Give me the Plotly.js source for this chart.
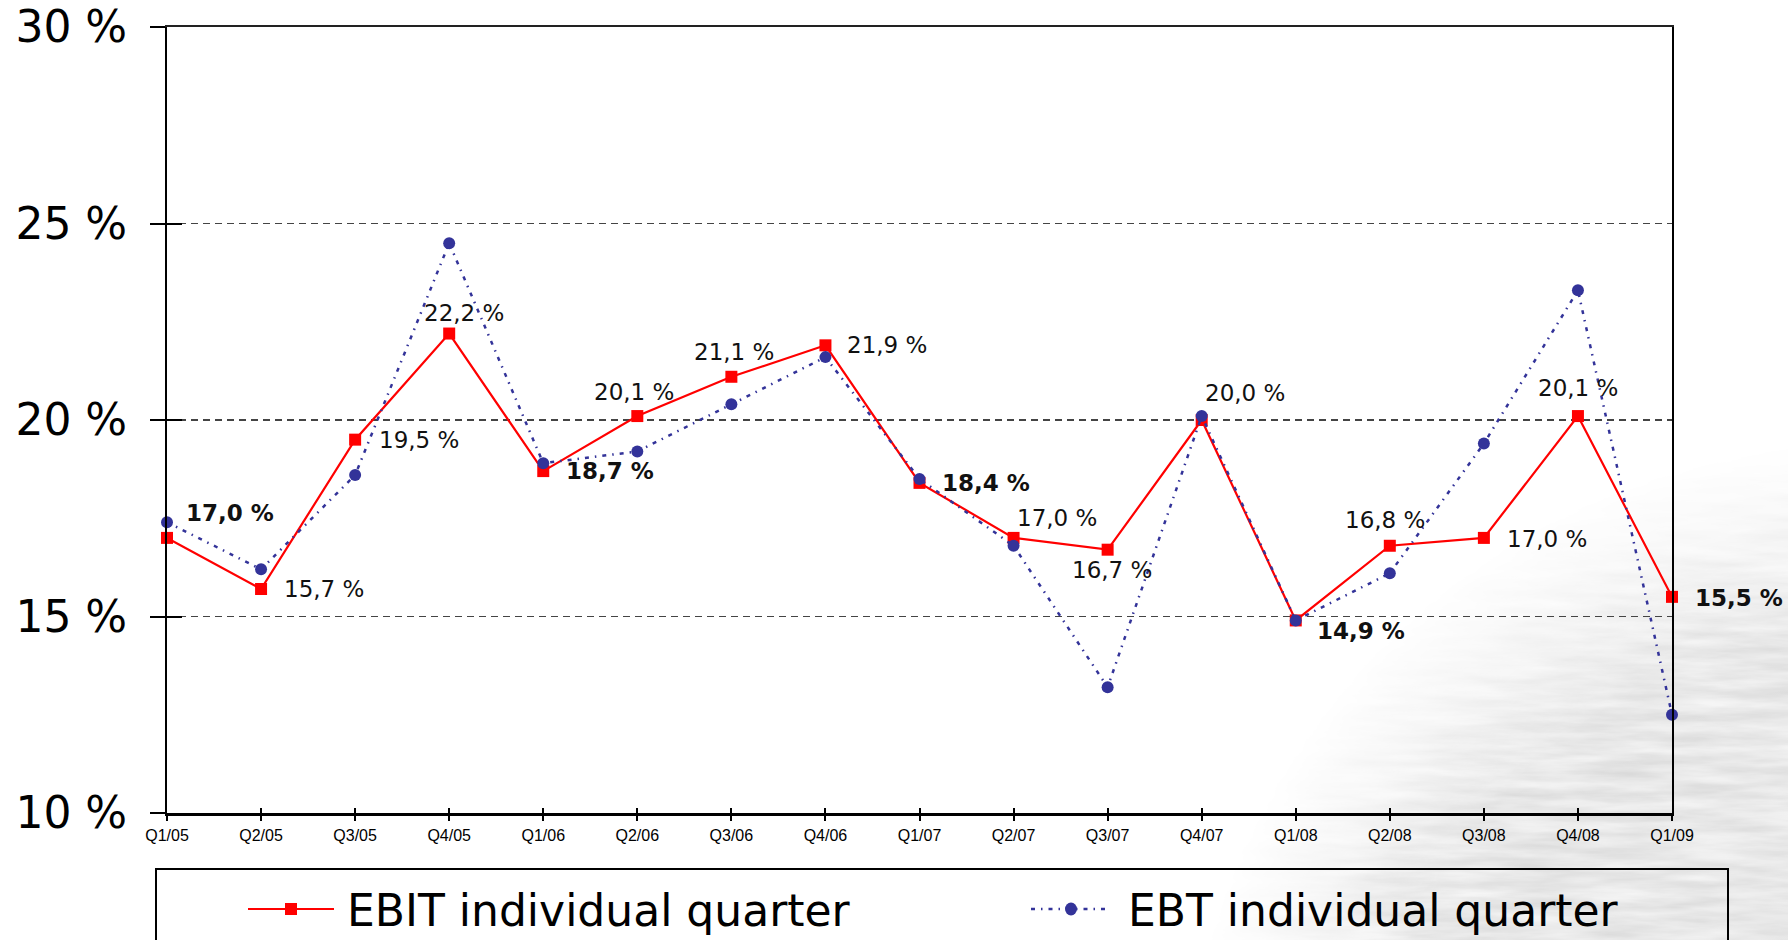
<!DOCTYPE html>
<html>
<head>
<meta charset="utf-8">
<script src="https://cdn.plot.ly/plotly-3.0.1.min.js"></script>
<style>
  html, body { margin: 0; padding: 0; background: #fff; }
  #stage { position: relative; width: 1788px; height: 940px; overflow: hidden; }
  #backdrop { position: absolute; left: 0; top: 0; }
  #chart { position: absolute; left: 0; top: 0; width: 1788px; height: 940px; }
</style>
</head>
<body>
<div id="stage">
  <!-- soft stone texture fading in from the lower right corner -->
  <svg id="backdrop" width="1788" height="940" xmlns="http://www.w3.org/2000/svg">
    <defs>
      <radialGradient id="stoneFade" gradientUnits="userSpaceOnUse" cx="1870" cy="1130" r="690">
        <stop offset="0" stop-color="#fff" stop-opacity="1"/>
        <stop offset="0.72" stop-color="#fff" stop-opacity="0.95"/>
        <stop offset="0.86" stop-color="#fff" stop-opacity="0.4"/>
        <stop offset="1" stop-color="#fff" stop-opacity="0"/>
      </radialGradient>
      <filter id="grain" x="0" y="0" width="100%" height="100%">
        <feTurbulence type="fractalNoise" baseFrequency="0.012 0.09" numOctaves="4" seed="7"/>
        <feColorMatrix type="matrix"
          values="0.28 0 0 0 0.66  0.28 0 0 0 0.66  0.28 0 0 0 0.66  0 0 0 0 1"/>
      </filter>
      <mask id="stoneMask">
        <rect width="1788" height="940" fill="url(#stoneFade)"/>
      </mask>
    </defs>
    <rect width="1788" height="940" fill="#ffffff"/>
    <rect width="1788" height="940" filter="url(#grain)" mask="url(#stoneMask)"/>
  </svg>
  <div id="chart"></div>
</div>
<script>
// Quarterly margins, in percent
const quarters = ['Q1/05', 'Q2/05', 'Q3/05', 'Q4/05', 'Q1/06', 'Q2/06', 'Q3/06', 'Q4/06',
                  'Q1/07', 'Q2/07', 'Q3/07', 'Q4/07', 'Q1/08', 'Q2/08', 'Q3/08', 'Q4/08', 'Q1/09'];
const ebit = [17.0, 15.7, 19.5, 22.2, 18.7, 20.1, 21.1, 21.9,
              18.4, 17.0, 16.7, 20.0, 14.9, 16.8, 17.0, 20.1, 15.5];
const ebt  = [17.4, 16.2, 18.6, 24.5, 18.9, 19.2, 20.4, 21.6,
              18.5, 16.8, 13.2, 20.1, 14.9, 16.1, 19.4, 23.3, 12.5];
const yTicks = [10, 15, 20, 25, 30];
const seriesNames = ['EBIT individual quarter', 'EBT individual quarter'];

// Where each EBIT value label sits relative to its marker: [xshift px, yshift px, xanchor]
const labelPlacement = [
  [17, 25, 'left'], [21, 0, 'left'], [22, 0, 'left'], [15, 21, 'center'],
  [21, 0, 'left'], [-3, 24, 'center'], [3, 25, 'center'], [20, 0, 'left'],
  [20, 0, 'left'], [1, 20, 'left'], [4, -20, 'center'], [1, 27, 'left'],
  [19, -11, 'left'], [-5, 26, 'center'], [21, -1, 'left'], [0, 28, 'center'],
  [21, -1, 'left']
];

const RED = '#ff0000';
const BLUE = '#333399';
const EBT_DASH = '4px,6px,1.5px,6px';
const fmtPct = v => v.toFixed(1).replace('.', ',') + ' %';

// helper traces (no points) so the extra tick / frame axes get drawn
const axisCarrier = (xa, ya) => ({
  x: [], y: [], xaxis: xa, yaxis: ya, type: 'scatter', mode: 'markers',
  hoverinfo: 'skip', showlegend: false
});

const traces = [
  {
    x: quarters, y: ebit, name: seriesNames[0], type: 'scatter', mode: 'lines+markers',
    line: { color: RED, width: 2.2 },
    marker: { symbol: 'square', size: 12, color: RED },
    cliponaxis: false, hoverinfo: 'skip'
  },
  {
    x: quarters, y: ebt, name: seriesNames[1], type: 'scatter', mode: 'lines+markers',
    line: { color: BLUE, width: 2.5, dash: EBT_DASH },
    marker: { symbol: 'circle', size: 12, color: BLUE },
    cliponaxis: false, hoverinfo: 'skip'
  },
  axisCarrier('x2', 'y'),
  axisCarrier('x3', 'y'),
  axisCarrier('x', 'y2')
];

// value labels on the EBIT series; first quarters are set in bold
const annotations = ebit.map((v, i) => {
  const [dx, dy, anchor] = labelPlacement[i];
  const txt = fmtPct(v);
  return {
    x: quarters[i], y: v, xref: 'x', yref: 'y',
    text: quarters[i].startsWith('Q1') ? '<b>' + txt + '</b>' : txt,
    showarrow: false, xanchor: anchor, yanchor: 'middle',
    xshift: dx, yshift: dy,
    font: { family: 'DejaVu Sans, Verdana, sans-serif', size: 23, color: '#111' }
  };
});

// boxed key below the axis
const plotL = 167, plotR = 1672, plotT = 27, plotB = 813;
const px = p => (p - plotL) / (plotR - plotL);
const py = p => (plotB - p) / (plotB - plotT);
const keyY = py(909);

annotations.push(
  { xref: 'paper', yref: 'paper', x: px(345), y: py(910), text: seriesNames[0],
    showarrow: false, xanchor: 'left', yanchor: 'middle',
    font: { family: 'DejaVu Sans, Verdana, sans-serif', size: 44, color: '#000' } },
  { xref: 'paper', yref: 'paper', x: px(1126), y: py(910), text: seriesNames[1],
    showarrow: false, xanchor: 'left', yanchor: 'middle',
    font: { family: 'DejaVu Sans, Verdana, sans-serif', size: 44, color: '#000' } }
);

const shapes = [
  { type: 'rect', xref: 'paper', yref: 'paper', x0: px(156), x1: px(1728), y0: py(990), y1: py(869),
    line: { color: '#000', width: 2 }, fillcolor: 'rgba(0,0,0,0)', layer: 'above' },
  { type: 'line', xref: 'paper', yref: 'paper', x0: px(248), x1: px(334), y0: keyY, y1: keyY,
    line: { color: RED, width: 2.2 } },
  { type: 'rect', xref: 'paper', yref: 'paper', xsizemode: 'pixel', ysizemode: 'pixel',
    xanchor: px(291), yanchor: keyY, x0: -6, x1: 6, y0: -6, y1: 6,
    fillcolor: RED, line: { width: 0 } },
  { type: 'line', xref: 'paper', yref: 'paper', x0: px(1031), x1: px(1111), y0: keyY, y1: keyY,
    line: { color: BLUE, width: 2.5, dash: EBT_DASH } },
  { type: 'circle', xref: 'paper', yref: 'paper', xsizemode: 'pixel', ysizemode: 'pixel',
    xanchor: px(1071), yanchor: keyY, x0: -6, x1: 6, y0: -6.5, y1: 6.5,
    fillcolor: BLUE, line: { width: 0 } }
];

const layout = {
  width: 1788, height: 940,
  margin: { l: plotL, r: 1788 - plotR, t: plotT, b: 940 - plotB, pad: 0 },
  paper_bgcolor: 'rgba(0,0,0,0)', plot_bgcolor: 'rgba(0,0,0,0)',
  showlegend: false, hovermode: false,
  font: { family: 'DejaVu Sans, Verdana, sans-serif', color: '#000' },
  xaxis: {
    type: 'category', range: [0, quarters.length - 1],
    showline: true, linewidth: 3, linecolor: '#000',
    ticks: 'outside', ticklen: 5, tickwidth: 2, tickcolor: '#000',
    ticklabelstandoff: 1,
    tickfont: { family: 'Liberation Sans, Arial, sans-serif', size: 16, color: '#000' },
    showgrid: false, zeroline: false, fixedrange: true
  },
  // inner half of the crossing ticks on the category axis
  xaxis2: {
    overlaying: 'x', anchor: 'y', side: 'bottom', type: 'linear',
    range: [0, quarters.length - 1], tick0: 0, dtick: 1,
    ticks: 'inside', ticklen: 5, tickwidth: 2, tickcolor: '#000',
    showticklabels: false, showline: false, showgrid: false, zeroline: false, fixedrange: true
  },
  // frame line along the top
  xaxis3: {
    overlaying: 'x', anchor: 'y', side: 'top', type: 'linear',
    range: [0, quarters.length - 1],
    showline: true, linewidth: 2, linecolor: '#222', ticks: '',
    showticklabels: false, showgrid: false, zeroline: false, fixedrange: true
  },
  yaxis: {
    range: [yTicks[0], yTicks[yTicks.length - 1]],
    tickvals: yTicks, ticktext: yTicks.map(t => t + ' %'),
    showline: true, linewidth: 2, linecolor: '#000', mirror: true,
    ticks: 'outside', ticklen: 15, tickwidth: 2, tickcolor: '#000',
    ticklabelstandoff: 14,
    tickfont: { family: 'DejaVu Sans, Verdana, sans-serif', size: 44, color: '#000' },
    showgrid: true, gridcolor: '#444', gridwidth: 1.3, griddash: '7px,5px',
    zeroline: false, fixedrange: true
  },
  // inner half of the crossing ticks on the value axis
  yaxis2: {
    overlaying: 'y', anchor: 'x', side: 'left',
    range: [yTicks[0], yTicks[yTicks.length - 1]], tickvals: yTicks,
    ticks: 'inside', ticklen: 15, tickwidth: 2, tickcolor: '#000',
    showticklabels: false, showline: false, showgrid: false, zeroline: false, fixedrange: true
  },
  annotations: annotations,
  shapes: shapes
};

Plotly.newPlot('chart', traces, layout, { staticPlot: true, displayModeBar: false });
</script>
</body>
</html>
